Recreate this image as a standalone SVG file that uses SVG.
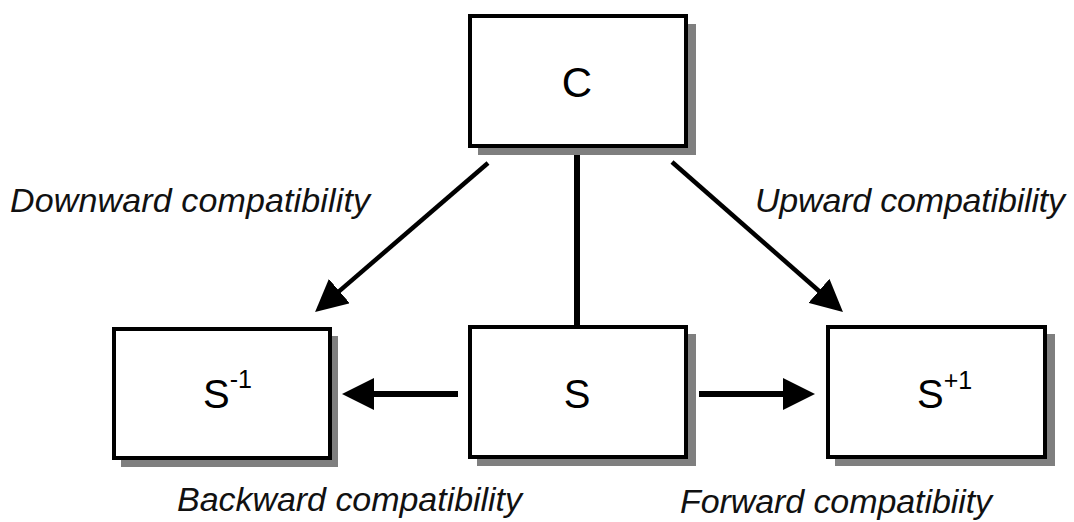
<svg xmlns="http://www.w3.org/2000/svg" width="1074" height="522" viewBox="0 0 1074 522">
<style>
.shadow{fill:#7f7f7f;stroke:none}
.box{fill:#fff;stroke:#000;stroke-width:4}
.name{font-family:"Liberation Sans",Arial,sans-serif;fill:#000}
.lbl{font-family:"Liberation Sans",Arial,sans-serif;font-style:italic;font-size:34px;fill:#111}
.conn{stroke:#000;fill:none}
</style>
<defs>
<marker id="ah" viewBox="0 0 32 32" refX="2" refY="16" markerWidth="32" markerHeight="32" markerUnits="userSpaceOnUse" orient="auto">
<path d="M0,0 L32,16 L0,32 z" fill="#000"/>
</marker>
</defs>
<rect width="1074" height="522" fill="#fff"/>
<g id="connectors">
<line class="conn" x1="577" y1="147" x2="577" y2="327" stroke-width="6"/>
<line class="conn" x1="488" y1="163" x2="337.8" y2="292.4" stroke-width="4.5" marker-end="url(#ah)"/>
<line class="conn" x1="672" y1="162" x2="820.4" y2="292.2" stroke-width="4.5" marker-end="url(#ah)"/>
<line class="conn" x1="458" y1="394" x2="372" y2="394" stroke-width="6" marker-end="url(#ah)"/>
<line class="conn" x1="699" y1="394" x2="785" y2="394" stroke-width="6" marker-end="url(#ah)"/>
</g>
<g id="node-C">
<rect class="shadow" x="478" y="24" width="218" height="131"/>
<rect class="box" x="470" y="16" width="216" height="130"/>
<text class="name" x="577" y="97" font-size="42" text-anchor="middle">C</text>
</g>
<g id="node-Sminus1">
<rect class="shadow" x="121" y="336" width="217" height="131"/>
<rect class="box" x="114" y="329" width="216" height="129"/>
<text class="name" x="203" y="408" font-size="40">S<tspan font-size="25" y="388">-1</tspan></text>
</g>
<g id="node-S">
<rect class="shadow" x="477" y="334" width="219" height="132"/>
<rect class="box" x="470" y="327" width="216" height="130"/>
<text class="name" x="577" y="408" font-size="40" text-anchor="middle">S</text>
</g>
<g id="node-Splus1">
<rect class="shadow" x="835" y="334" width="220" height="132"/>
<rect class="box" x="828" y="327" width="217" height="130"/>
<text class="name" x="917" y="408" font-size="40">S<tspan font-size="25" y="389">+1</tspan></text>
</g>
<g id="labels">
<text class="lbl" x="10" y="212" textLength="360" lengthAdjust="spacing">Downward compatibility</text>
<text class="lbl" x="755" y="212" textLength="310" lengthAdjust="spacing">Upward compatibility</text>
<text class="lbl" x="177" y="511" textLength="345" lengthAdjust="spacing">Backward compatibility</text>
<text class="lbl" x="680" y="513" textLength="312" lengthAdjust="spacing">Forward compatibiity</text>
</g>
</svg>
